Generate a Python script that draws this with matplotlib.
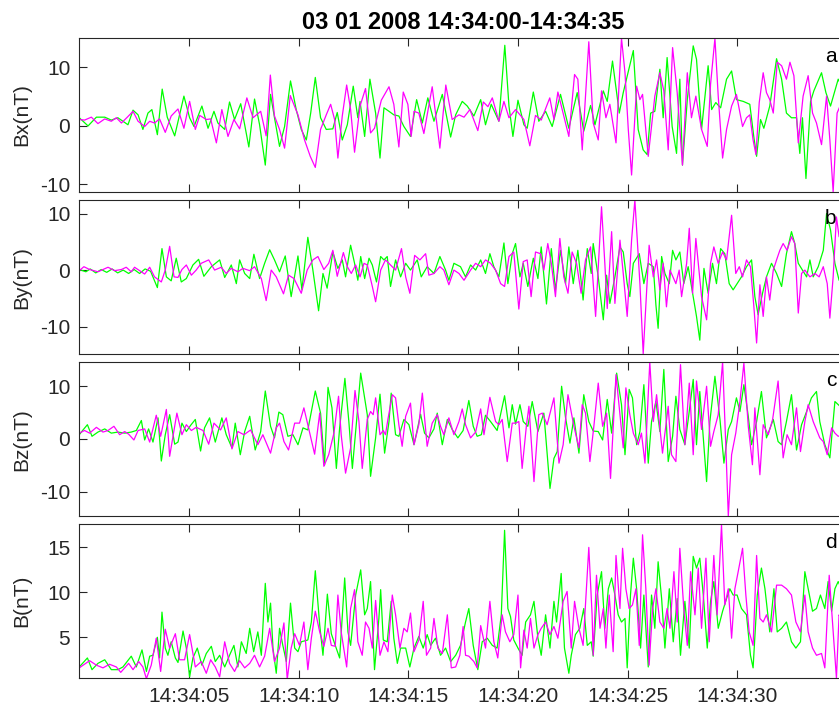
import numpy as np
import matplotlib
matplotlib.use('Agg')
import matplotlib.pyplot as plt

plt.rcParams['font.family'] = ['Liberation Sans', 'DejaVu Sans']
plt.rcParams['axes.unicode_minus'] = False

# (seconds after 14:34:00, field in nT)
bx_green = [(0, 1.4), (0.40, 0.0), (0.78, 1.5), (1.16, 1.5), (1.46, 1.0), (1.76, 1.4), (2.22, 0.2), (2.45, 2.7),
            (2.68, 1.9), (2.90, -0.6), (3.13, 2.2), (3.31, 2.8), (3.56, -1.5), (3.78, 6.3), (4.01, 1.5), (4.35, -1.7),
            (4.77, 5.1), (5.03, 1.4), (5.23, -0.1), (5.59, 3.4), (5.87, -0.4), (6.14, 2.5), (6.32, 0.5), (6.63, -0.6),
            (6.85, 4.1), (7.08, 1.1), (7.36, 3.8), (7.73, -3.6), (7.99, 4.6), (8.22, 0.2), (8.48, -6.7), (8.72, 5.4),
            (8.90, 1.4), (9.13, -3.5), (9.36, -0.1), (9.63, 7.7), (9.89, 2.8), (10.12, -0.6), (10.35, -2.4), (10.55, 2.2),
            (10.76, 8.3), (11.00, 1.4), (11.26, -0.6), (11.56, -0.5), (11.76, 2.3), (11.99, -2.4), (12.22, 0.2),
            (12.49, 6.8), (12.70, 1.4), (12.80, 4.2), (13.01, -1.8), (13.25, 8.0), (13.51, 2.2), (13.71, -5.5),
            (13.89, 3.1), (14.12, 2.5), (14.34, 1.9), (14.57, 1.7), (14.80, -0.1), (15.10, -1.8), (15.38, 4.5),
            (15.64, 0.5), (15.89, 4.8), (16.17, 0.8), (16.55, 5.4), (16.93, -1.9), (17.16, 1.9), (17.46, 4.2),
            (17.69, 3.4), (17.99, 1.7), (18.30, 4.5), (18.52, 0.2), (18.78, 3.7), (19.13, 0.8), (19.40, 13.8),
            (19.59, 3.4), (19.77, -1.8), (20.00, 4.4), (20.27, 0.2), (20.42, -0.4), (20.70, 5.8), (20.95, 0.8),
            (21.26, 2.5), (21.56, -0.1), (21.94, 5.4), (22.32, -0.4), (22.70, 5.7), (23.00, -0.9), (23.31, 3.5),
            (23.51, 0.2), (23.89, 6.0), (24.07, 4.2), (24.31, 11.1), (24.62, 2.2), (24.80, 5.7), (25.26, 12.9),
            (25.48, -0.6), (25.71, -4.1), (25.89, -4.9), (26.05, 2.2), (26.24, 2.5), (26.47, 9.7), (26.62, 1.4),
            (26.80, 11.7), (27.03, -0.1), (27.23, -4.7), (27.38, 8.0), (27.50, -6.7), (27.72, 4.5), (27.99, 13.7),
            (28.14, 11.4), (28.37, -0.6), (28.67, 10.3), (28.83, 2.8), (29.02, 4.0), (29.24, 3.1), (29.51, 8.0),
            (29.74, 9.4), (29.96, 4.5), (30.27, 4.2), (30.57, 3.7), (30.75, -1.8), (30.88, -5.2), (31.06, 1.1),
            (31.21, -0.4), (31.48, 3.4), (31.79, 11.5), (32.02, 8.0), (32.24, 2.2), (32.47, 1.4), (32.70, 1.4),
            (32.85, -4.7), (32.97, 1.4), (33.13, -9.0), (33.34, 4.2), (33.49, 6.0), (33.84, 9.1), (34.04, 5.7),
            (34.25, 3.4), (34.60, 8.0), (35.0, 5.0)]

bx_magenta = [(0, 1.1), (0.24, 1.0), (0.55, 1.5), (0.85, 0.4), (1.16, 1.2), (1.46, 0.8), (1.69, 1.4), (1.92, 0.5),
              (2.19, 1.5), (2.45, 2.5), (2.68, 0.8), (2.98, -0.1), (3.21, 0.8), (3.43, 0.5), (3.66, 1.2), (3.92, -1.1),
              (4.19, 1.7), (4.50, 2.9), (4.77, -0.4), (5.03, 4.2), (5.29, -0.6), (5.49, 1.8), (5.79, 1.1), (5.99, 1.2),
              (6.25, -2.9), (6.50, 2.8), (6.78, -1.8), (7.05, 1.1), (7.31, -0.5), (7.64, 4.8), (7.92, 1.4), (8.27, 2.5),
              (8.52, -1.7), (8.71, 8.7), (8.90, 1.7), (9.13, -0.6), (9.36, -3.8), (9.62, 5.2), (9.97, 1.9),
              (10.27, -2.4), (10.53, -5.2), (10.76, -7.1), (11.00, -0.6), (11.26, 1.9), (11.46, 3.7), (11.64, 1.1),
              (11.79, -5.5), (11.99, 1.7), (12.19, 7.0), (12.37, 2.8), (12.55, -4.5), (12.80, 3.4), (13.05, 6.4),
              (13.28, -1.2), (13.46, -0.4), (13.77, 4.4), (14.12, 6.7), (14.34, 3.7), (14.57, -3.6), (14.77, 5.8),
              (14.98, 3.7), (15.13, -1.8), (15.26, 2.5), (15.48, 2.2), (15.71, -1.3), (16.09, 6.7), (16.44, -3.8),
              (16.71, 7.0), (17.00, 1.1), (17.31, 1.9), (17.54, 1.5), (17.81, 2.8), (18.17, -0.8), (18.42, 4.1),
              (18.63, 3.3), (18.83, 4.8), (19.13, 0.8), (19.36, 4.2), (19.59, 1.4), (19.89, 2.8), (20.27, 1.1),
              (20.54, -3.4), (20.80, 1.8), (21.06, 1.0), (21.45, 4.8), (21.64, 1.1), (21.82, 5.8), (22.09, 1.7),
              (22.32, -1.8), (22.58, 8.8), (22.73, 8.0), (22.93, -4.1), (23.23, 14.4), (23.43, 0.5), (23.66, -2.4),
              (23.81, 6.0), (24.01, 1.4), (24.19, 3.7), (24.47, -2.9), (24.72, 15.0), (24.88, 9.1), (25.03, -0.6),
              (25.18, -8.4), (25.41, 6.8), (25.56, 4.5), (25.68, 5.4), (25.94, -5.2), (26.24, 5.1), (26.47, 9.1),
              (26.65, 6.0), (26.85, -4.1), (27.05, 13.4), (27.26, 5.7), (27.50, -6.7), (27.72, 9.1), (27.91, 1.4),
              (28.11, 5.1), (28.37, -0.6), (28.63, -3.5), (28.78, 7.1), (28.98, 15.0), (29.13, 5.1), (29.33, -5.5),
              (29.51, -0.6), (29.74, 3.4), (29.96, 5.4), (30.24, -0.1), (30.42, 1.4), (30.57, 1.9), (30.72, -2.4),
              (30.85, -4.9), (31.00, 4.0), (31.18, 9.1), (31.33, 5.7), (31.48, 4.5), (31.64, 2.2), (31.82, 10.9),
              (32.02, 10.3), (32.24, 8.0), (32.40, 10.9), (32.58, 8.6), (32.78, -2.9), (33.00, 5.1), (33.23, 8.6),
              (33.43, 2.2), (33.61, 0.5), (33.84, -3.2), (34.07, 5.1), (34.22, -2.4), (34.37, -11.3), (34.55, 2.2),
              (34.75, 4.0), (35.0, 3.0)]

by_green = [(0, 0.1), (0.3, -0.3), (0.5, 0.2), (0.75, -0.5), (1.0, 0.1), (1.25, -0.4), (1.5, 0.2), (1.75, -0.5),
            (2.0, 0.0), (2.25, -0.6), (2.5, 0.1), (2.75, -0.6), (3.0, 0.2), (3.25, -0.2), (3.56, -3.1), (3.77, 3.8),
            (3.97, -1.2), (4.19, -1.9), (4.42, 2.1), (4.65, -2.1), (4.88, -1.5), (5.18, 0.9), (5.44, 1.9), (5.68, -1.1),
            (6.02, 0.6), (6.40, 1.8), (6.63, -1.3), (6.93, 0.9), (7.16, -2.4), (7.31, 1.8), (7.54, -0.6), (7.77, -1.5),
            (7.96, 2.8), (8.22, -1.5), (8.45, 1.2), (8.68, 3.6), (8.90, 1.8), (9.13, -0.3), (9.39, 2.5), (9.66, -4.7),
            (9.97, 2.5), (10.15, -3.5), (10.42, 5.8), (10.65, 0.0), (10.91, -7.2), (11.11, -0.6), (11.30, -3.2),
            (11.56, 3.2), (11.79, 0.3), (11.99, 1.8), (12.14, -1.2), (12.37, 4.4), (12.55, 1.2), (12.70, -1.8),
            (12.83, 2.4), (13.01, -1.5), (13.21, 2.1), (13.36, 0.9), (13.55, -2.1), (13.74, 2.4), (13.89, 1.8),
            (14.04, 2.4), (14.19, -2.9), (14.42, 1.8), (14.65, -1.2), (14.88, 1.2), (15.10, 0.0), (15.41, 1.8),
            (15.59, -1.2), (15.86, 0.6), (16.17, -0.6), (16.44, 2.4), (16.70, 0.0), (16.85, -1.8), (17.08, 1.2),
            (17.38, 0.6), (17.61, -1.2), (17.84, 0.9), (18.07, 0.0), (18.30, 1.8), (18.52, -0.6), (18.72, 2.9),
            (18.90, 0.6), (19.13, -1.2), (19.36, 4.8), (19.54, -2.4), (19.74, 2.9), (19.89, 4.7), (20.09, -1.2),
            (20.24, 1.2), (20.45, -2.9), (20.70, 2.1), (20.91, -1.5), (21.06, 4.1), (21.30, -6.0), (21.52, 3.8),
            (21.71, -3.5), (21.94, 3.5), (22.17, -2.4), (22.32, 4.1), (22.52, -2.4), (22.73, 3.5), (22.97, -5.3),
            (23.16, 3.8), (23.34, -0.6), (23.43, 4.7), (23.66, -1.2), (23.89, -8.8), (24.04, -0.9), (24.19, -5.9),
            (24.42, -1.2), (24.65, 4.1), (24.80, 3.2), (24.98, -2.4), (25.10, -4.7), (25.26, 1.2), (25.53, 2.9),
            (25.74, -2.4), (25.94, 1.2), (26.17, 0.6), (26.29, -6.2), (26.39, -10.3), (26.55, 2.4), (26.70, -0.6),
            (26.90, -2.4), (27.05, 3.5), (27.20, 1.8), (27.38, 3.2), (27.56, -2.4), (27.76, 0.6), (27.99, -4.7),
            (28.14, -8.2), (28.29, -12.4), (28.48, 0.3), (28.67, -4.1), (28.87, 1.2), (29.05, -2.4), (29.24, 3.8),
            (29.43, 2.9), (29.63, -2.4), (29.81, -3.5), (29.99, -2.4), (30.19, -1.2), (30.42, 0.6), (30.65, 1.8),
            (30.80, -4.7), (30.95, -7.9), (31.15, -4.1), (31.33, -1.2), (31.56, 1.2), (31.79, -0.6), (32.02, -2.9),
            (32.24, 2.9), (32.47, 6.8), (32.62, 4.7), (32.78, 1.2), (32.97, 0.0), (33.16, -1.2), (33.31, 1.8),
            (33.46, -1.2), (33.69, 0.6), (33.92, 3.5), (34.07, 10.0), (34.25, 7.1), (34.45, 1.2), (34.64, -1.8),
            (35.0, -1.0)]

by_magenta = [(0, -0.1), (0.21, 0.6), (0.47, 0.1), (0.85, -0.3), (1.31, 0.5), (1.61, -0.1), (1.92, 0.1), (2.14, 0.5),
              (2.37, -0.3), (2.52, 0.5), (2.75, -0.1), (2.98, -0.7), (3.21, 0.5), (3.43, -1.2), (3.74, -2.1),
              (3.92, 0.0), (4.12, 4.2), (4.32, -1.2), (4.50, -1.3), (4.68, 0.1), (4.88, 0.9), (5.11, -0.9), (5.33, 0.0),
              (5.56, 1.2), (5.90, 1.8), (6.17, 0.0), (6.47, 0.5), (6.70, -0.6), (6.93, 0.3), (7.23, -0.3), (7.46, 0.3),
              (7.77, -0.1), (7.99, 0.6), (8.30, -1.5), (8.52, -5.4), (8.75, 0.0), (8.98, -1.2), (9.31, -4.2),
              (9.54, -0.9), (9.79, -1.5), (10.12, -4.1), (10.39, 0.0), (10.65, 1.8), (10.88, 2.4), (11.15, 0.1),
              (11.37, 1.2), (11.56, 3.5), (11.76, -1.1), (12.04, 3.1), (12.22, 0.6), (12.40, -0.6), (12.60, 0.9),
              (12.80, -1.2), (12.98, 1.2), (13.13, 0.9), (13.36, -2.9), (13.51, -5.6), (13.74, 0.0), (13.96, 1.8),
              (14.19, 0.9), (14.42, 0.0), (14.69, 3.8), (14.88, -1.2), (15.07, -4.1), (15.29, 2.6), (15.53, 1.8),
              (15.79, 2.9), (15.94, -0.9), (16.17, -0.6), (16.44, 0.6), (16.62, 0.0), (16.85, -2.6), (17.08, 0.0),
              (17.31, -0.6), (17.54, -1.8), (17.84, 0.0), (18.07, 1.2), (18.30, 0.6), (18.52, 1.8), (18.75, 1.2),
              (18.98, 0.0), (19.21, -2.4), (19.39, -2.9), (19.59, 2.4), (19.81, 3.2), (20.04, -6.9), (20.24, 1.5),
              (20.42, 1.8), (20.60, -4.7), (20.80, 3.2), (21.03, 2.9), (21.18, 0.0), (21.36, 4.7), (21.52, 1.2),
              (21.71, -4.7), (21.91, 5.6), (22.09, -1.2), (22.28, -4.1), (22.47, 3.2), (22.67, 1.2), (22.88, -4.1),
              (23.08, 1.8), (23.31, 4.1), (23.54, -8.2), (23.81, 11.2), (23.96, 1.2), (24.07, -6.8), (24.27, 6.8),
              (24.42, -5.9), (24.65, 5.3), (24.80, -0.6), (24.98, -8.2), (25.18, 5.3), (25.33, 12.4), (25.56, -2.4),
              (25.71, -14.8), (25.98, 4.4), (26.17, -1.2), (26.32, 1.8), (26.47, -3.5), (26.62, 1.2), (26.77, -6.5),
              (26.93, 0.0), (27.20, -2.4), (27.35, 0.0), (27.46, -4.7), (27.69, 1.2), (27.81, 7.4), (27.96, -4.1),
              (28.11, 5.6), (28.37, -4.7), (28.60, -8.8), (28.78, 1.2), (28.93, 4.1), (29.13, 1.2), (29.33, 3.2),
              (29.51, 1.8), (29.74, 9.7), (29.93, -0.6), (30.09, 0.6), (30.24, -1.2), (30.42, 1.8), (30.60, 0.6),
              (30.75, -6.2), (30.88, -12.9), (31.03, -2.6), (31.18, -8.2), (31.33, -1.2), (31.48, -5.3), (31.64, 0.0),
              (31.79, 1.8), (31.94, 3.5), (32.09, 4.7), (32.27, 3.5), (32.47, 5.9), (32.62, 4.7), (32.78, -7.6),
              (32.93, -0.6), (33.08, 0.0), (33.31, -1.2), (33.54, -0.6), (33.73, -1.2), (33.92, 0.6), (34.10, -2.4),
              (34.22, -8.5), (34.37, -1.2), (34.52, 9.4), (34.64, 5.9), (34.80, 12.0), (35.0, 4.0)]

bz_green = [(0, 0.8), (0.17, 1.7), (0.37, 2.7), (0.58, 0.5), (0.85, 1.3), (1.16, 1.9), (1.46, 1.1), (1.76, 1.3),
            (2.07, 1.1), (2.37, 1.3), (2.60, 1.6), (2.83, 3.5), (2.98, -0.2), (3.16, 1.9), (3.36, -0.6), (3.59, 4.0),
            (3.74, -4.2), (3.92, 0.8), (4.12, 4.6), (4.35, -1.0), (4.50, -0.6), (4.68, 3.0), (4.88, 1.4), (5.08, 2.6),
            (5.29, 3.7), (5.53, -2.3), (5.71, 2.1), (5.94, 4.0), (6.20, -0.6), (6.50, 4.0), (6.70, 0.8), (6.96, -1.7),
            (7.11, 3.0), (7.34, -3.0), (7.54, 1.4), (7.77, 4.3), (8.02, -2.1), (8.27, 1.4), (8.48, 9.1), (8.72, 2.4),
            (8.90, 0.2), (9.10, 5.1), (9.28, 4.6), (9.51, 0.5), (9.74, 0.8), (9.97, -1.1), (10.20, 2.1), (10.42, 1.7),
            (10.76, 9.1), (11.00, 4.9), (11.18, -5.0), (11.34, 9.8), (11.52, 5.9), (11.72, -5.6), (11.87, 2.1),
            (12.11, 11.5), (12.29, 3.3), (12.45, -5.6), (12.64, 3.3), (12.83, 12.5), (13.01, 7.8), (13.13, 4.6),
            (13.28, -7.1), (13.51, 0.2), (13.71, 8.5), (13.92, -2.7), (14.12, 3.3), (14.22, 8.7), (14.42, 0.8),
            (14.57, 0.5), (14.80, 3.7), (15.03, 2.7), (15.26, -1.1), (15.56, 4.7), (15.74, 1.1), (15.94, 0.2),
            (16.17, 1.9), (16.32, 4.9), (16.55, -1.1), (16.78, 3.7), (17.00, 1.8), (17.26, 0.2), (17.50, 1.6),
            (17.76, 7.3), (17.96, 2.4), (18.14, 0.5), (18.33, 0.8), (18.52, 4.5), (18.75, 3.3), (19.05, 1.6),
            (19.39, 8.2), (19.59, 2.1), (19.74, 6.5), (19.89, 2.8), (20.09, 6.5), (20.24, 3.3), (20.45, 2.4),
            (20.65, 7.1), (20.91, 1.4), (21.18, 4.9), (21.46, -9.4), (21.64, -3.7), (21.79, -2.4), (21.99, 10.0),
            (22.17, 4.0), (22.37, -0.8), (22.55, 4.0), (22.78, -2.7), (23.00, 8.4), (23.23, 3.3), (23.43, 1.5),
            (23.66, 1.4), (23.86, -0.2), (24.07, 7.5), (24.27, 1.1), (24.50, 12.5), (24.72, 6.5), (24.88, -3.0),
            (25.07, 9.4), (25.22, 7.8), (25.41, -1.1), (25.56, 1.4), (25.74, 10.3), (25.94, -4.6), (26.09, 3.3),
            (26.29, 7.1), (26.47, 1.4), (26.65, 13.2), (26.85, -4.3), (27.05, 0.5), (27.20, 8.1), (27.38, 1.8),
            (27.61, -1.1), (27.79, 4.6), (27.99, 11.3), (28.14, -1.1), (28.29, 9.0), (28.45, 0.2), (28.60, -8.1),
            (28.75, 3.3), (28.98, 11.9), (29.21, 3.7), (29.39, -4.6), (29.59, 1.8), (29.74, 3.3), (29.96, 7.8),
            (30.12, 5.2), (30.30, 10.3), (30.50, 4.3), (30.65, -1.1), (30.88, 3.3), (31.10, 9.0), (31.33, 0.2),
            (31.64, 3.7), (31.86, -0.5), (32.02, -1.1), (32.24, 3.3), (32.47, 8.4), (32.70, -2.1), (32.93, 2.7),
            (33.16, 5.2), (33.38, 7.8), (33.61, 9.0), (33.76, 3.3), (33.99, -1.1), (34.22, -3.6), (34.45, 7.1),
            (34.60, 6.5), (35.0, 5.0)]

bz_magenta = [(0, 1.1), (0.24, 1.6), (0.47, 1.1), (0.78, 2.2), (1.08, 1.3), (1.31, 1.6), (1.58, 2.4), (1.84, 0.8),
              (2.07, 1.4), (2.25, 0.9), (2.49, -0.2), (2.68, 1.6), (2.98, 1.9), (3.21, -0.6), (3.51, 4.5), (3.71, 0.5),
              (3.97, 5.6), (4.12, -3.3), (4.23, -0.6), (4.45, 4.9), (4.68, 0.8), (4.88, 2.7), (5.11, 1.6), (5.33, 2.2),
              (5.64, 1.6), (5.90, -1.0), (6.14, 3.0), (6.44, 1.7), (6.70, 4.0), (6.96, -1.9), (7.23, 1.4), (7.51, 0.8),
              (7.81, 1.7), (8.14, -1.1), (8.37, 0.8), (8.72, -2.7), (8.98, 2.1), (9.13, 3.0), (9.33, -0.5),
              (9.54, -2.1), (9.82, 3.0), (10.04, 3.0), (10.24, 5.9), (10.42, 2.7), (10.73, -2.9), (10.96, 4.9),
              (11.15, -5.2), (11.37, -3.0), (11.61, 1.1), (11.82, 8.1), (11.94, 0.8), (12.14, -6.5), (12.37, -1.7),
              (12.57, 9.2), (12.75, 3.3), (12.90, -5.6), (13.13, 3.7), (13.28, 5.2), (13.40, 4.6), (13.51, 7.8),
              (13.71, 0.8), (13.86, 1.6), (13.96, 0.8), (14.07, 3.7), (14.27, 8.4), (14.42, 7.8), (14.57, 2.7),
              (14.72, -1.4), (14.88, 4.3), (15.10, 6.8), (15.26, -1.1), (15.48, 2.7), (15.64, 8.7), (15.86, -1.4),
              (16.09, 3.0), (16.32, 4.6), (16.47, 2.4), (16.62, 0.8), (16.85, 4.0), (17.08, 0.8), (17.31, 3.3),
              (17.46, 5.7), (17.61, 2.7), (17.84, 0.2), (18.07, 1.3), (18.30, 5.7), (18.45, 0.8), (18.72, 7.9),
              (18.98, 3.3), (19.13, 2.7), (19.28, 3.7), (19.51, -4.3), (19.74, 3.0), (19.89, 3.0), (20.04, 3.3),
              (20.19, -5.6), (20.39, 2.7), (20.50, 6.2), (20.73, -8.1), (20.95, 4.6), (21.11, 4.9), (21.33, 2.7),
              (21.64, 7.8), (21.87, -4.6), (22.06, -1.1), (22.28, 8.4), (22.55, 2.4), (22.78, -1.7), (22.93, 6.5),
              (23.08, 4.9), (23.28, -4.3), (23.46, 2.4), (23.66, 10.6), (23.86, 2.4), (24.04, 4.9), (24.22, -7.5),
              (24.47, 12.2), (24.68, 3.3), (24.80, -1.7), (24.92, 9.7), (25.10, 4.6), (25.26, 1.1), (25.48, -1.1),
              (25.63, 1.1), (25.79, -4.6), (26.01, 14.6), (26.17, 3.3), (26.32, 8.4), (26.47, 2.1), (26.59, -2.7),
              (26.85, 6.2), (27.00, -3.0), (27.20, -4.3), (27.41, 14.1), (27.61, -1.1), (27.81, 10.6), (27.99, -3.0),
              (28.14, 11.0), (28.37, 1.8), (28.60, 10.0), (28.78, -1.4), (28.93, 1.4), (29.13, 4.6), (29.33, 14.6),
              (29.48, -1.7), (29.59, -14.7), (29.74, -3.0), (29.93, 1.1), (30.12, 7.1), (30.30, 14.4), (30.50, 2.4),
              (30.69, -4.9), (30.80, 5.9), (31.03, -6.8), (31.18, 2.7), (31.41, 0.8), (31.61, 3.7), (31.86, 11.0),
              (32.09, -3.6), (32.27, 0.8), (32.47, -1.1), (32.70, 5.9), (32.88, -2.4), (33.08, 3.3), (33.23, 6.5),
              (33.46, 3.3), (33.76, 0.2), (33.92, -0.5), (34.10, -3.0), (34.30, 2.1), (34.45, 1.1), (34.60, 0.5),
              (35.0, 1.0)]

b_green = [(0, 1.7), (0.37, 2.7), (0.58, 1.4), (0.85, 2.1), (1.16, 2.5), (1.46, 1.4), (1.76, 1.4), (1.99, 1.7),
           (2.37, 2.9), (2.60, 1.7), (2.86, 3.6), (3.06, 1.2), (3.21, 2.9), (3.36, 3.0), (3.56, 5.0), (3.66, 2.7),
           (3.77, 7.8), (3.92, 3.8), (4.04, 3.0), (4.19, 4.5), (4.38, 2.7), (4.50, 2.2), (4.73, 5.7), (4.88, 3.8),
           (5.03, 0.6), (5.18, 2.7), (5.38, 3.8), (5.59, 1.9), (5.79, 3.2), (6.02, 4.0), (6.20, 2.3), (6.40, 3.0),
           (6.63, 1.7), (6.85, 3.0), (7.05, 4.1), (7.23, 1.7), (7.39, 4.5), (7.61, 3.2), (7.77, 6.0), (7.95, 3.4),
           (8.14, 5.6), (8.30, 3.0), (8.48, 11.0), (8.60, 6.7), (8.72, 8.8), (8.83, 3.8), (8.98, 1.0), (9.13, 6.0),
           (9.28, 4.1), (9.44, 2.3), (9.63, 8.8), (9.82, 3.8), (9.97, 3.4), (10.12, 4.5), (10.42, 4.7), (10.58, 6.7),
           (10.76, 12.4), (10.96, 6.4), (11.11, 3.0), (11.31, 9.8), (11.49, 5.4), (11.67, 4.1), (11.87, 2.7),
           (12.10, 11.6), (12.25, 5.6), (12.37, 4.1), (12.60, 9.7), (12.83, 12.5), (13.01, 7.5), (13.13, 8.2),
           (13.28, 11.2), (13.46, 1.4), (13.66, 7.1), (13.74, 10.3), (13.86, 4.7), (14.04, 4.5), (14.22, 9.0),
           (14.34, 4.9), (14.50, 2.1), (14.65, 3.8), (14.88, 3.8), (15.07, 1.7), (15.26, 3.8), (15.48, 5.1),
           (15.68, 3.8), (15.86, 5.3), (16.02, 4.1), (16.24, 4.9), (16.47, 3.0), (16.70, 3.8), (16.93, 2.3),
           (17.16, 3.0), (17.38, 4.1), (17.61, 6.7), (17.76, 8.2), (17.96, 4.1), (18.17, 1.4), (18.37, 4.5),
           (18.60, 4.9), (18.83, 4.1), (19.05, 3.8), (19.24, 7.5), (19.39, 16.9), (19.54, 8.2), (19.66, 7.3),
           (19.81, 4.7), (20.00, 3.8), (20.19, 3.0), (20.35, 6.7), (20.57, 7.5), (20.73, 9.0), (20.91, 4.9),
           (21.06, 3.0), (21.26, 7.5), (21.46, 3.8), (21.64, 9.0), (21.76, 6.7), (21.97, 12.1), (22.12, 3.8),
           (22.32, 1.0), (22.43, 3.0), (22.62, 5.3), (22.82, 6.0), (23.00, 8.2), (23.16, 4.1), (23.34, 4.5),
           (23.43, 2.9), (23.61, 9.7), (23.81, 12.3), (23.96, 6.0), (24.12, 10.4), (24.27, 11.6), (24.42, 9.7),
           (24.57, 7.5), (24.72, 6.7), (24.88, 7.1), (24.98, 1.6), (25.13, 9.7), (25.26, 13.8), (25.41, 10.4),
           (25.59, 3.8), (25.74, 9.7), (25.94, 1.7), (26.09, 9.7), (26.24, 6.0), (26.39, 13.4), (26.55, 9.3),
           (26.70, 3.8), (26.90, 10.4), (27.08, 4.5), (27.26, 9.3), (27.41, 3.0), (27.61, 9.0), (27.81, 3.8),
           (27.99, 14.0), (28.14, 12.7), (28.29, 13.8), (28.45, 9.7), (28.63, 3.8), (28.78, 9.0), (28.93, 11.2),
           (29.13, 6.0), (29.33, 7.9), (29.51, 9.3), (29.66, 10.4), (29.81, 9.7), (29.99, 9.7), (30.19, 8.2),
           (30.42, 7.5), (30.60, 3.0), (30.72, 1.6), (30.91, 9.7), (31.10, 12.7), (31.26, 10.4), (31.48, 5.6),
           (31.67, 10.4), (31.82, 5.6), (32.02, 6.0), (32.24, 6.7), (32.47, 4.5), (32.67, 3.8), (32.88, 4.5),
           (33.08, 12.3), (33.23, 10.4), (33.43, 7.9), (33.61, 8.2), (33.79, 9.7), (33.99, 8.2), (34.14, 11.2),
           (34.30, 7.9), (34.45, 10.4), (34.60, 11.2), (35.0, 9.0)]

b_magenta = [(0, 1.6), (0.47, 2.4), (0.78, 1.9), (1.08, 1.6), (1.38, 2.0), (1.69, 1.7), (1.89, 1.1), (2.07, 1.6),
             (2.25, 2.1), (2.45, 1.4), (2.71, 2.3), (2.90, 1.7), (3.06, 0.4), (3.28, 1.9), (3.51, 4.9), (3.71, 1.2),
             (3.92, 5.9), (4.12, 3.8), (4.38, 5.4), (4.57, 2.5), (4.80, 2.5), (5.03, 5.3), (5.29, 1.7), (5.56, 2.3),
             (5.79, 1.0), (5.99, 2.5), (6.20, 1.7), (6.40, 0.6), (6.63, 4.5), (6.85, 2.1), (7.08, 1.2), (7.31, 2.4),
             (7.54, 1.6), (7.77, 2.1), (7.99, 3.0), (8.22, 1.7), (8.45, 2.9), (8.68, 6.0), (8.90, 2.3), (9.13, 3.8),
             (9.33, 6.6), (9.48, 0.3), (9.66, 3.8), (9.82, 5.4), (10.04, 4.1), (10.24, 6.7), (10.42, 1.4), (10.58, 4.9),
             (10.76, 7.9), (10.96, 5.6), (11.15, 4.0), (11.34, 6.0), (11.49, 4.1), (11.67, 4.0), (11.79, 9.7),
             (11.94, 5.6), (12.19, 1.7), (12.37, 8.2), (12.55, 10.3), (12.70, 4.5), (12.90, 3.0), (13.05, 6.7),
             (13.21, 6.0), (13.36, 3.8), (13.51, 9.1), (13.71, 3.0), (13.89, 4.5), (14.07, 3.4), (14.27, 9.7),
             (14.42, 7.5), (14.62, 3.8), (14.80, 6.0), (14.95, 5.6), (15.10, 7.7), (15.26, 3.4), (15.48, 4.7),
             (15.68, 9.0), (15.83, 3.0), (16.02, 3.8), (16.17, 7.1), (16.35, 3.8), (16.55, 3.2), (16.78, 7.5),
             (16.96, 1.6), (17.16, 1.7), (17.35, 3.0), (17.50, 6.2), (17.61, 3.0), (17.76, 2.9), (17.99, 2.3),
             (18.14, 1.6), (18.30, 6.3), (18.52, 3.8), (18.72, 9.0), (18.90, 4.5), (19.08, 2.7), (19.28, 7.5),
             (19.43, 5.6), (19.63, 4.5), (19.81, 5.3), (20.00, 9.7), (20.12, 1.6), (20.27, 5.8), (20.42, 3.8),
             (20.57, 7.1), (20.73, 3.8), (20.91, 5.3), (21.06, 6.0), (21.26, 6.7), (21.46, 5.3), (21.64, 6.2),
             (21.82, 4.9), (22.06, 9.0), (22.24, 10.1), (22.43, 3.8), (22.58, 9.0), (22.78, 6.0), (22.97, 4.1),
             (23.23, 15.0), (23.38, 7.5), (23.43, 3.0), (23.58, 11.9), (23.74, 6.0), (23.89, 8.2), (24.01, 3.8),
             (24.16, 9.7), (24.34, 3.4), (24.47, 14.1), (24.65, 8.2), (24.77, 14.9), (24.92, 10.4), (25.07, 8.2),
             (25.22, 8.6), (25.38, 10.4), (25.53, 4.1), (25.68, 16.4), (25.83, 10.4), (25.98, 1.9), (26.14, 8.2),
             (26.29, 10.4), (26.47, 6.7), (26.65, 6.0), (26.80, 8.2), (26.93, 6.0), (27.11, 12.3), (27.26, 6.7),
             (27.38, 14.9), (27.56, 8.2), (27.72, 4.1), (27.87, 12.3), (28.07, 7.5), (28.22, 12.7), (28.37, 6.0),
             (28.57, 13.8), (28.72, 4.5), (28.93, 14.1), (29.08, 7.5), (29.28, 17.5), (29.43, 8.6), (29.59, 10.4),
             (29.74, 4.9), (29.89, 10.4), (30.04, 12.3), (30.24, 14.9), (30.39, 9.7), (30.54, 5.6), (30.72, 4.1),
             (30.88, 14.1), (31.03, 7.1), (31.18, 6.7), (31.33, 7.5), (31.56, 5.6), (31.79, 10.8), (32.02, 10.8),
             (32.24, 10.4), (32.47, 9.7), (32.67, 6.7), (32.88, 5.6), (33.08, 9.7), (33.23, 5.6), (33.43, 3.8),
             (33.61, 3.0), (33.84, 3.2), (33.99, 1.6), (34.19, 11.9), (34.34, 6.7), (34.52, 0.45), (34.64, 7.5),
             (35.0, 5.0)]

tick_seconds = [5, 10, 15, 20, 25, 30]
tick_labels = ['14:34:05', '14:34:10', '14:34:15', '14:34:20', '14:34:25', '14:34:30']

panels = [
    ('Bx(nT)', 'a', bx_green, bx_magenta, (-11.3, 15.1), [-10, 0, 10]),
    ('By(nT)', 'b', by_green, by_magenta, (-14.9, 12.4), [-10, 0, 10]),
    ('Bz(nT)', 'c', bz_green, bz_magenta, (-14.7, 14.6), [-10, 0, 10]),
    ('B(nT)', 'd', b_green, b_magenta, (0.44, 17.6), [5, 10, 15]),
]

fig = plt.figure(figsize=(8.39, 7.11), dpi=100)
left, width, height = 0.0945, 0.915, 0.217
bottoms = [0.730, 0.5017, 0.2738, 0.046]

for i, (ylabel, letter, green, magenta, ylim, yticks) in enumerate(panels):
    ax = fig.add_axes([left, bottoms[i], width, height])
    g = np.array(green)
    m = np.array(magenta)
    ax.plot(g[:, 0], g[:, 1], color='#00ff00', lw=0.9)
    ax.plot(m[:, 0], m[:, 1], color='#ff00ff', lw=0.9)

    ax.set_xlim(0, 35)
    ax.set_ylim(*ylim)
    ax.set_yticks(yticks)
    ax.set_xticks(tick_seconds)
    if i == len(panels) - 1:
        ax.set_xticklabels(tick_labels)
    else:
        ax.set_xticklabels([])

    ax.tick_params(direction='in', length=6, width=0.8, top=True, right=True,
                   labelsize=15, pad=6.5, colors='#262626')
    for s in ax.spines.values():
        s.set_color('#262626')
        s.set_linewidth(0.8)

    ax.set_ylabel(ylabel, fontsize=15, color='#262626')
    ax.yaxis.set_label_coords(-0.062, 0.5)
    ax.text(0.979, 0.88, letter, transform=ax.transAxes, ha='center', va='center',
            fontsize=15, color='black')

    if i == 0:
        ax.set_title('03 01 2008 14:34:00-14:34:35', fontsize=17, fontweight='bold', pad=6)

fig.savefig('out.png', dpi=100)
